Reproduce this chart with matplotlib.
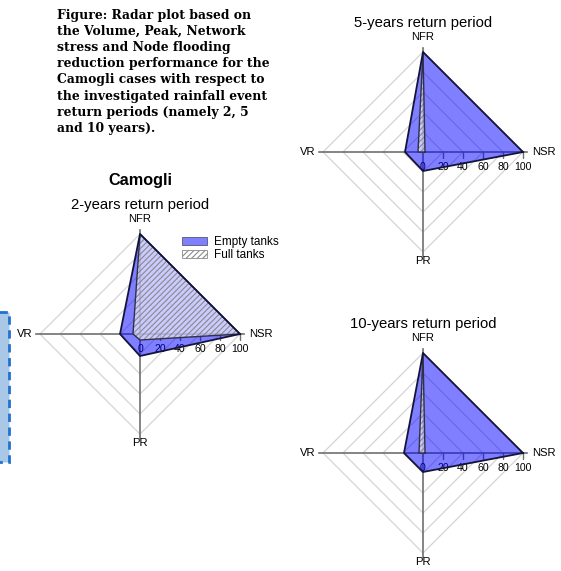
import numpy as np
import matplotlib
matplotlib.use("Agg")
import matplotlib.pyplot as plt
from matplotlib.patches import Patch, Rectangle
from matplotlib.markers import TICKDOWN

plt.rcParams['font.family'] = ['Liberation Sans', 'DejaVu Sans']
plt.rcParams['hatch.linewidth'] = 0.8

# spoke order goes counter-clockwise from the right
spokes = ['NSR', 'NFR', 'VR', 'PR']
rings = [20, 40, 60, 80, 100]
ring_labels = ['0', '20', '40', '60', '80', '100']
ring_label_pos = [0, 20, 40, 60, 80, 100]

periods = ['2-years return period', '5-years return period', '10-years return period']
empty_tanks = [
    [100, 100, 20, 22],
    [100, 100, 18, 19],
    [100, 100, 19, 19],
]
full_tanks = [
    [100, 100, 7, 6],
    [2, 100, 5, 0],
    [2, 100, 4, 0],
]

caption = [
    'Figure: Radar plot based on',
    'the Volume, Peak, Network',
    'stress and Node flooding',
    'reduction performance for the',
    'Camogli cases with respect to',
    'the investigated rainfall event',
    'return periods (namely 2, 5',
    'and 10 years).',
]

W, H = 561, 571
fig = plt.figure(figsize=(W / 100, H / 100), dpi=100)

# light blue dashed box peeking in at the left edge
fig.patches.append(Rectangle((-6 / W, 1 - 462 / H), 15 / W, 150 / H,
                             transform=fig.transFigure, facecolor='#a9c7e6',
                             edgecolor='#1f72d0', lw=2, ls=(0, (3, 2))))

for i, line in enumerate(caption):
    fig.text(57 / W, 1 - (15 + i * 16.25) / H, line, family='DejaVu Serif',
             fontweight='bold', fontsize=8.9, ha='left', va='center')

fig.text(140 / W, 1 - 180 / H, 'Camogli', fontsize=11.7, fontweight='bold',
         ha='center', va='center')

theta = np.array([0, 0.5, 1.0, 1.5]) * np.pi
closed = np.append(theta, theta[0])
rmax = 115
centers = [(140, 334), (423, 152), (423, 453)]


def radar(cx, cy, title, empty, full):
    ax = fig.add_axes([(cx - rmax) / W, (H - cy - rmax) / H, 2 * rmax / W, 2 * rmax / H],
                      projection='polar')
    ax.set_ylim(0, rmax)
    ax.set_axis_off()

    for r in rings:
        ax.plot(closed, [r] * 5, color='#d4d4d4', lw=0.9, zorder=1)
    for t in theta:
        ax.plot([t, t], [0, 104], color='#707070', lw=1.2, zorder=2)
    # ticks only on the labelled NSR spoke
    ax.plot([0] * len(rings), rings, ls='none', marker=TICKDOWN, ms=4,
            mec='#707070', mew=1.0, zorder=2)

    for lbl, r in zip(ring_labels, ring_label_pos):
        ax.annotate(lbl, xy=(0, r), xytext=(0, -11), textcoords='offset points',
                    ha='center', va='center', fontsize=7.6, zorder=2)

    ax.text(np.pi / 2, 115, spokes[1], ha='center', va='center', fontsize=8.1)
    ax.text(3 * np.pi / 2, 109, spokes[3], ha='center', va='center', fontsize=8.1)
    ax.text(np.pi, 107, spokes[2], ha='right', va='center', fontsize=8.1)
    ax.text(0, 109, spokes[0], ha='left', va='center', fontsize=8.1)
    ax.text(np.pi / 2, 129, title, ha='center', va='center', fontsize=10.7)

    ev = np.append(empty, empty[0])
    fv = np.append(full, full[0])
    ax.fill(closed, ev, facecolor=(0, 0, 1, 0.5), edgecolor='none', zorder=3)
    ax.fill(closed, fv, facecolor=(1, 1, 1, 0.6), edgecolor='#8a8a8a',
            hatch='//////', lw=0, zorder=4)
    ax.plot(closed, fv, color='#303048', lw=1.0, zorder=5)
    ax.plot(closed, ev, color='#14143a', lw=1.3, zorder=5)
    return ax


for (cx, cy), title, e, f in zip(centers, periods, empty_tanks, full_tanks):
    radar(cx, cy, title, e, f)

handles = [Patch(facecolor=(0.5, 0.5, 1.0), edgecolor='#555577', lw=0.6),
           Patch(facecolor='white', edgecolor='#8a8a8a', hatch='//////', lw=0.6)]
fig.legend(handles, ['Empty tanks', 'Full tanks'], loc='upper left',
           bbox_to_anchor=(182 / W, 1 - 236 / H), bbox_transform=fig.transFigure,
           frameon=False, fontsize=8.5, handlelength=2.1, handleheight=0.6,
           handletextpad=0.65, labelspacing=0.1, borderpad=0, borderaxespad=0)

fig.savefig('out.png', dpi=100)
